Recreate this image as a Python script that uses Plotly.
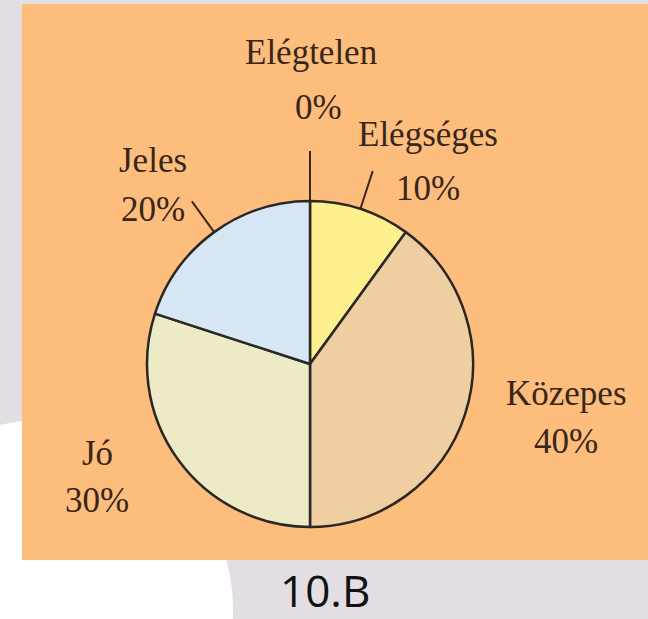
import math
import plotly.graph_objects as go

# Osztályzatok megoszlása (10.B)
grades = ["Elégtelen", "Elégséges", "Közepes", "Jó", "Jeles"]
shares = [0, 10, 40, 30, 20]
slice_colors = ["#f3d9b0", "#fcef8c", "#efcfa2", "#ecebc5", "#d6e6f5"]
class_name = "10.B"

W, H = 648, 619
cx, cy, R = 310, 364, 163          # pie centre / radius in page pixels
ink = "#37261a"

# label anchor points (page pixels): name line, value line
label_pos = {
    "Elégtelen": ((311, 52), (318, 107)),
    "Elégséges": ((428, 134), (428, 188)),
    "Közepes":   ((566, 393), (566, 441)),
    "Jó":        ((97, 453), (97, 500)),
    "Jeles":     ((153, 160), (153, 209)),
}
leader_len = {"Elégtelen": 50, "Elégséges": 40, "Jeles": 38}

fig = go.Figure()

fig.add_trace(go.Pie(
    labels=grades, values=shares, sort=False, direction="clockwise",
    rotation=0, textinfo="none", hoverinfo="label+percent",
    marker=dict(colors=slice_colors, line=dict(color="#2b2724", width=2.5)),
    domain=dict(x=[(cx - R) / W, (cx + R) / W],
                y=[1 - (cy + R) / H, 1 - (cy - R) / H]),
    showlegend=False,
))

# invisible pixel-space axes for shapes and labels
fig.add_trace(go.Scatter(x=[0, W], y=[0, H], mode="markers",
                         marker=dict(opacity=0), hoverinfo="skip",
                         showlegend=False))

shapes = [
    # white backdrop blob
    dict(type="circle", xref="x", yref="y", x0=43 - 190, x1=43 + 190,
         y0=610 - 190, y1=610 + 190, fillcolor="white", line_width=0,
         layer="below"),
    # orange panel
    dict(type="rect", xref="x", yref="y", x0=22, x1=W + 2, y0=4, y1=560,
         fillcolor="#fdbd7c", line_width=0, layer="below"),
]

total = sum(shares)
cum = 0
for g, v in zip(grades, shares):
    mid = 2 * math.pi * (cum + v / 2) / total
    cum += v
    if g in leader_len:
        r0, r1 = R, R + leader_len[g]
        shapes.append(dict(
            type="line", xref="x", yref="y",
            x0=cx + r0 * math.sin(mid), y0=cy - r0 * math.cos(mid),
            x1=cx + r1 * math.sin(mid), y1=cy - r1 * math.cos(mid),
            line=dict(color=ink, width=2)))

annotations = []
for g, v in zip(grades, shares):
    (nx, ny), (px, py) = label_pos[g]
    for txt, (x, y) in ((g, (nx, ny)), (f"{v}%", (px, py))):
        annotations.append(dict(
            x=x, y=y, xref="x", yref="y", text=txt, showarrow=False,
            xanchor="center", yanchor="middle",
            font=dict(family="Liberation Serif, DejaVu Serif, serif",
                      size=35, color=ink)))

annotations.append(dict(
    x=325, y=590, xref="x", yref="y", text=class_name, showarrow=False,
    xanchor="center", yanchor="middle",
    font=dict(family="Open Sans, Noto Sans, sans-serif", size=44,
              color="#111111")))

fig.update_layout(
    width=W, height=H, margin=dict(l=0, r=0, t=0, b=0),
    paper_bgcolor="#e3dee3", plot_bgcolor="rgba(0,0,0,0)",
    xaxis=dict(range=[0, W], visible=False, fixedrange=True),
    yaxis=dict(range=[H, 0], visible=False, fixedrange=True),
    shapes=shapes, annotations=annotations,
)

fig.write_html("out.html")
